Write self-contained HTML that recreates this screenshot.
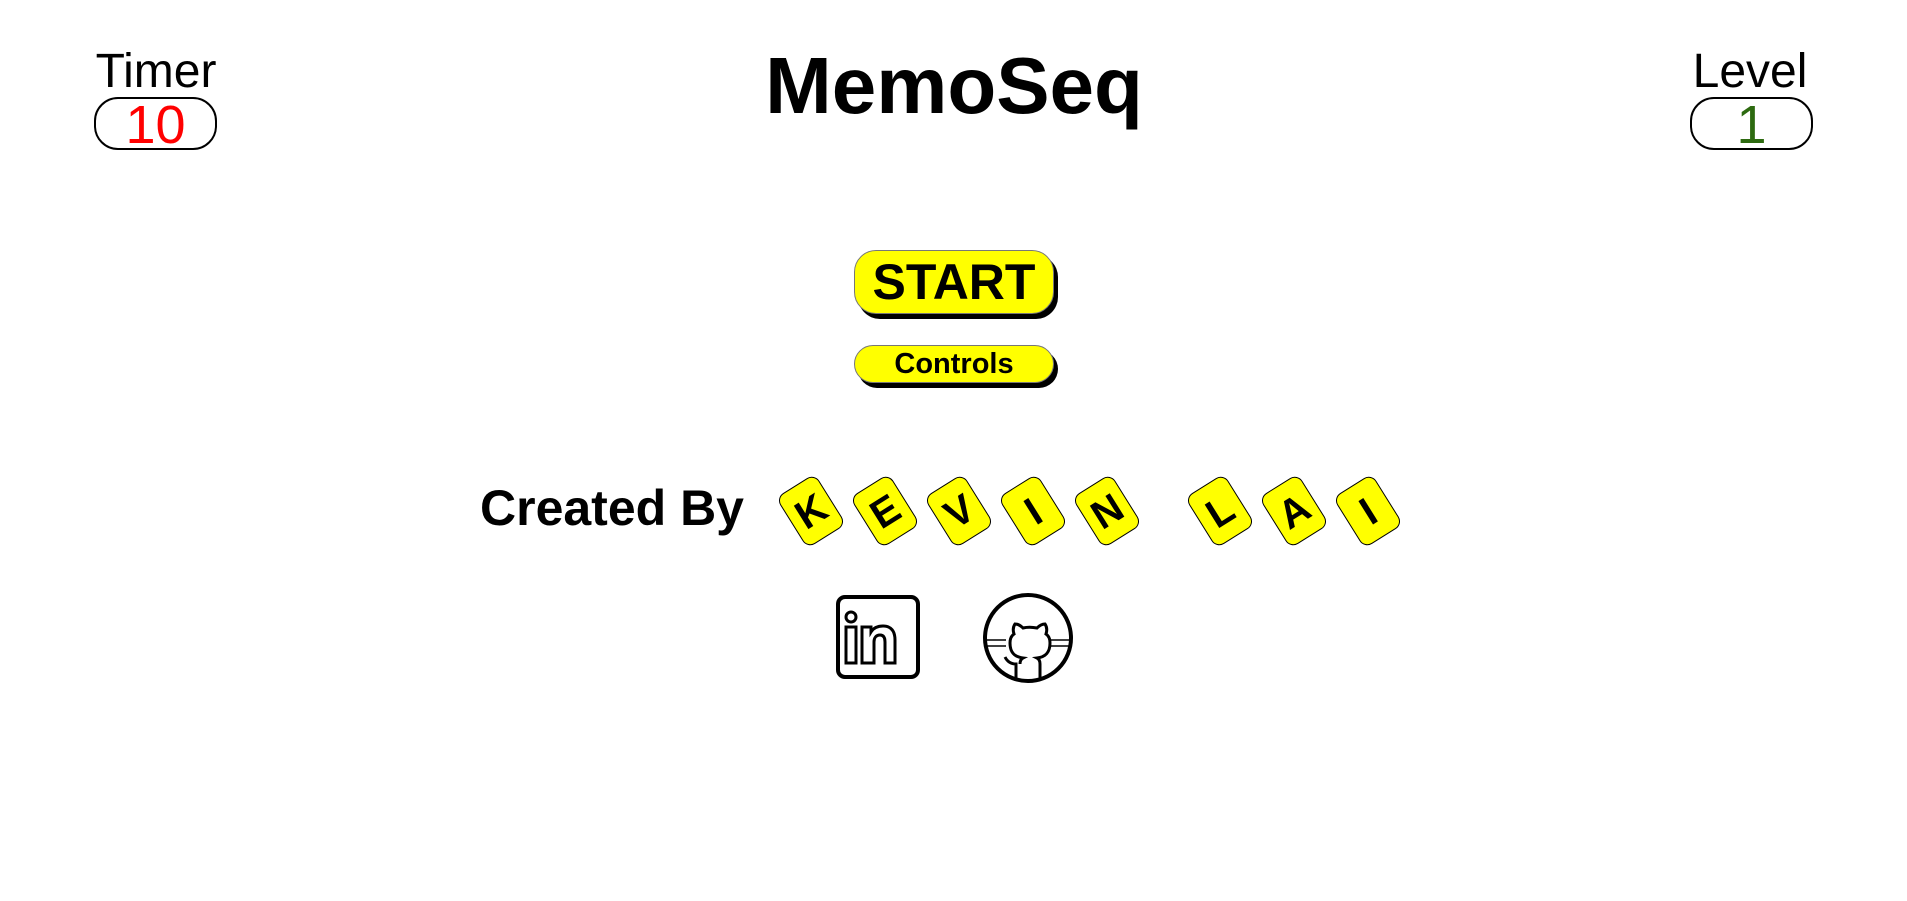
<!DOCTYPE html>
<html><head><style>
body{margin:0;width:1907px;height:901px;background:#fff;font-family:"Liberation Sans",Arial,sans-serif;position:relative;overflow:hidden}
.a{position:absolute}
.lbl{font-size:48px;text-align:center;width:130px;line-height:1}
.box{border:2px solid #000;border-radius:24px;width:123px;height:53px;font-size:54px;text-align:center;line-height:53px;box-sizing:border-box}
.btn{background:#ff0;border:1px solid #777;border-radius:22px;box-shadow:4px 5px 0 #000;text-align:center;font-weight:bold;box-sizing:border-box}
.tile{width:46px;height:60px;background:#ff0;border:1.5px solid #000;border-radius:9px;transform:rotate(-32deg);font-weight:bold;font-size:40px;text-align:center;line-height:60px;box-sizing:border-box}
</style></head><body>
<div class="a lbl" style="left:91px;top:48px">Timer</div>
<div class="a box" style="left:94px;top:97px;color:#f00">10</div>
<div class="a" style="left:700px;top:40px;width:508px;text-align:center;font-weight:bold;font-size:80px">MemoSeq</div>
<div class="a lbl" style="left:1685px;top:48px">Level</div>
<div class="a box" style="left:1690px;top:97px;color:#2d6a10">1</div>
<div class="a btn" style="left:854px;top:250px;width:200px;height:64px;font-size:50px;line-height:62px">START</div>
<div class="a btn" style="left:854px;top:345px;width:200px;height:38px;font-size:29px;line-height:36px">Controls</div>
<div class="a" style="left:480px;top:478px;font-weight:bold;font-size:50px;line-height:60px">Created By</div>
<div class="a tile" style="left:788px;top:481px">K</div>
<div class="a tile" style="left:862px;top:481px">E</div>
<div class="a tile" style="left:936px;top:481px">V</div>
<div class="a tile" style="left:1010px;top:481px">I</div>
<div class="a tile" style="left:1084px;top:481px">N</div>
<div class="a tile" style="left:1197px;top:481px">L</div>
<div class="a tile" style="left:1271px;top:481px">A</div>
<div class="a tile" style="left:1345px;top:481px">I</div>
<svg class="a" style="left:835px;top:594px" width="88" height="88" viewBox="0 0 88 88">
<rect x="3" y="3" width="80" height="80" rx="7" fill="none" stroke="#000" stroke-width="4"/>
<circle cx="16" cy="23" r="5" fill="none" stroke="#000" stroke-width="3"/>
<rect x="11" y="33" width="10" height="36" fill="none" stroke="#000" stroke-width="3"/>
<path d="M27 69V33h9v5c3-5 8-6 12-6 8 0 12 5 12 14v23h-10V48c0-5-2-7-5-7-4 0-6 3-6 7v21z" fill="none" stroke="#000" stroke-width="3"/>
</svg>
<svg class="a" style="left:982px;top:592px" width="92" height="92" viewBox="0 0 92 92">
<circle cx="46" cy="46" r="43" fill="none" stroke="#000" stroke-width="4"/>
<path d="M34 88V72c-6 0-9-3-11-7M58 88V72c0-3-1-5-3-6 8-1 13-5 13-15 0-4-1-7-4-9 1-3 1-7-1-10-3 0-6 2-8 4-5-1-10-1-14 0-2-2-5-4-8-4-2 3-2 7-1 10-3 2-4 5-4 9 0 10 5 14 13 15-2 1-3 3-3 6" fill="none" stroke="#000" stroke-width="3"/>
<path d="M4 48h20M4 54h20M68 48h20M68 54h20" stroke="#000" stroke-width="1.5"/>
</svg>
</body></html>
